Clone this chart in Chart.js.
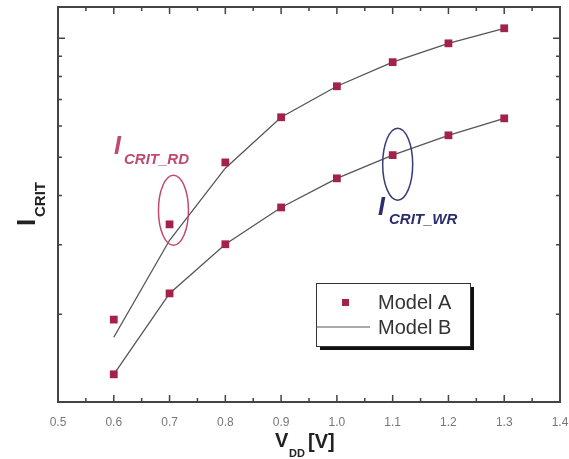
<!DOCTYPE html>
<html lang="en">
<head>
    <meta charset="UTF-8">
    <title>I_CRIT vs VDD</title>
    <script src="https://cdn.jsdelivr.net/npm/chart.js"></script>
    <style>
        html, body { margin: 0; padding: 0; background: #fff; }
        #wrap { width: 569px; height: 459px; }
    </style>
</head>
<body>
    <div id="wrap">
        <canvas id="myChart" width="569" height="459"></canvas>
    </div>
    <script>
        // Supply voltage (V)
        const vdd = [0.6, 0.7, 0.8, 0.9, 1.0, 1.1, 1.2, 1.3];

        // Model A (symbols): read and write critical current
        const modelA_rd = [1.94, 3.38, 4.85, 6.31, 7.56, 8.70, 9.71, 10.6];
        const modelA_wr = [1.41, 2.26, 3.01, 3.73, 4.42, 5.06, 5.68, 6.27];

        // Model B (lines)
        const modelB_rd = [1.75, 3.08, 4.69, 6.31, 7.56, 8.70, 9.71, 10.6];
        const modelB_wr = [1.41, 2.26, 3.01, 3.73, 4.42, 5.06, 5.68, 6.27];

        // Axis ticks
        const xTicks = [0.5, 0.6, 0.7, 0.8, 0.9, 1.0, 1.1, 1.2, 1.3, 1.4];
        const xMinorTicks = [0.55, 0.65, 0.75, 0.85, 0.95, 1.05, 1.15, 1.25, 1.35];
        const yMajorTicks = [10];
        const yMinorTicks = [2, 3, 4, 5, 6, 7, 8, 9];

        const markerColor = '#a3214a';
        const lineColor = '#555555';

        const pts = (xs, ys) => xs.map((x, i) => ({ x: x, y: ys[i] }));

        // Frame, inward ticks, axis titles, annotations and the boxed legend
        const decorPlugin = {
            id: 'decor',
            afterDraw(chart) {
                const c = chart.ctx;
                const a = chart.chartArea;
                const xs = chart.scales.x;
                const ys = chart.scales.y;
                c.save();

                // ticks
                c.strokeStyle = '#444';
                c.lineWidth = 1.5;
                const xt = (v, len) => {
                    const px = xs.getPixelForValue(v);
                    c.beginPath();
                    c.moveTo(px, a.bottom); c.lineTo(px, a.bottom - len);
                    c.moveTo(px, a.top); c.lineTo(px, a.top + len);
                    c.stroke();
                };
                const yt = (v, len) => {
                    const py = ys.getPixelForValue(v);
                    c.beginPath();
                    c.moveTo(a.left, py); c.lineTo(a.left + len, py);
                    c.moveTo(a.right, py); c.lineTo(a.right - len, py);
                    c.stroke();
                };
                xTicks.forEach(v => xt(v, 7));
                xMinorTicks.forEach(v => xt(v, 4));
                yMajorTicks.forEach(v => yt(v, 7));
                yMinorTicks.forEach(v => yt(v, 4));

                // frame
                c.lineWidth = 2;
                c.strokeRect(a.left, a.top, a.right - a.left, a.bottom - a.top);

                // y title: I_CRIT
                c.fillStyle = '#222';
                c.save();
                c.translate(35, 226);
                c.rotate(-Math.PI / 2);
                c.font = 'bold 26px "Liberation Sans", Arial, sans-serif';
                c.textBaseline = 'alphabetic';
                c.fillText('I', 0, 0);
                c.font = 'bold 15px "Liberation Sans", Arial, sans-serif';
                c.fillText('CRIT', 9, 10);
                c.restore();

                // x title: V_DD [V]
                c.font = 'bold 20px "Liberation Sans", Arial, sans-serif';
                c.fillText('V', 275, 447);
                c.font = 'bold 11px "Liberation Sans", Arial, sans-serif';
                c.fillText('DD', 289, 457);
                c.font = 'bold 20px "Liberation Sans", Arial, sans-serif';
                c.fillText('[V]', 308, 448);

                // annotation ellipses
                c.lineWidth = 1.5;
                c.strokeStyle = '#c04a72';
                c.beginPath();
                c.ellipse(xs.getPixelForValue(0.707), ys.getPixelForValue(3.67), 15, 35, 0, 0, Math.PI * 2);
                c.stroke();
                c.strokeStyle = '#3a3c78';
                c.beginPath();
                c.ellipse(xs.getPixelForValue(1.109), ys.getPixelForValue(4.80), 15, 36, 0, 0, Math.PI * 2);
                c.stroke();

                // annotation labels
                c.fillStyle = '#c04a72';
                c.font = 'italic bold 25px "Liberation Sans", Arial, sans-serif';
                c.fillText('I', 114, 154);
                c.font = 'italic bold 15px "Liberation Sans", Arial, sans-serif';
                c.fillText('CRIT_RD', 124, 164);
                c.fillStyle = '#2b2d6e';
                c.font = 'italic bold 25px "Liberation Sans", Arial, sans-serif';
                c.fillText('I', 378, 215);
                c.font = 'italic bold 15px "Liberation Sans", Arial, sans-serif';
                c.fillText('CRIT_WR', 389, 224);

                // legend box with drop shadow
                const lx = 316, ly = 283, lw = 154, lh = 63;
                c.fillStyle = '#111';
                c.fillRect(lx + 4, ly + 4, lw, lh);
                c.fillStyle = '#fff';
                c.fillRect(lx, ly, lw, lh);
                c.strokeStyle = '#333';
                c.lineWidth = 1;
                c.strokeRect(lx + 0.5, ly + 0.5, lw, lh);

                c.fillStyle = markerColor;
                c.fillRect(342, 299, 7, 7);
                c.strokeStyle = lineColor;
                c.lineWidth = 1.2;
                c.beginPath();
                c.moveTo(316, 327); c.lineTo(370, 327);
                c.stroke();

                c.fillStyle = '#333';
                c.font = '20px "Liberation Sans", Arial, sans-serif';
                c.fillText('Model A', 378, 309);
                c.fillText('Model B', 378, 334);

                c.restore();
            }
        };

        const ctx = document.getElementById('myChart').getContext('2d');
        const myChart = new Chart(ctx, {
            type: 'scatter',
            data: {
                datasets: [
                    {
                        label: 'Model A',
                        data: pts(vdd, modelA_rd),
                        pointStyle: 'rect',
                        pointRadius: 5.5,
                        backgroundColor: markerColor,
                        borderColor: markerColor,
                        borderWidth: 0,
                        showLine: false
                    },
                    {
                        label: 'Model A',
                        data: pts(vdd, modelA_wr),
                        pointStyle: 'rect',
                        pointRadius: 5.5,
                        backgroundColor: markerColor,
                        borderColor: markerColor,
                        borderWidth: 0,
                        showLine: false
                    },
                    {
                        label: 'Model B',
                        data: pts(vdd, modelB_rd),
                        showLine: true,
                        pointRadius: 0,
                        borderColor: lineColor,
                        borderWidth: 1.3,
                        tension: 0
                    },
                    {
                        label: 'Model B',
                        data: pts(vdd, modelB_wr),
                        showLine: true,
                        pointRadius: 0,
                        borderColor: lineColor,
                        borderWidth: 1.3,
                        tension: 0
                    }
                ]
            },
            options: {
                responsive: false,
                animation: false,
                events: [],
                layout: { padding: { top: 7, right: 9, left: 0, bottom: 0 } },
                plugins: {
                    legend: { display: false },
                    tooltip: { enabled: false }
                },
                scales: {
                    x: {
                        type: 'linear',
                        min: 0.5,
                        max: 1.4,
                        grid: { display: false },
                        border: { display: false },
                        afterBuildTicks: s => { s.ticks = xTicks.map(v => ({ value: v })); },
                        afterFit: s => {
                            s.height = 57;
                            s.paddingLeft = 0;
                            s.paddingRight = 0;
                        },
                        ticks: {
                            color: '#777',
                            padding: 5,
                            maxRotation: 0,
                            autoSkip: false,
                            font: { family: '"Liberation Sans", Arial, sans-serif', size: 12 },
                            callback: v => Number(v).toFixed(1)
                        }
                    },
                    y: {
                        type: 'logarithmic',
                        min: 1.2,
                        max: 12,
                        grid: { display: false },
                        border: { display: false },
                        ticks: { display: false },
                        afterFit: s => { s.width = 58; }
                    }
                }
            },
            plugins: [decorPlugin]
        });
    </script>
</body>
</html>
